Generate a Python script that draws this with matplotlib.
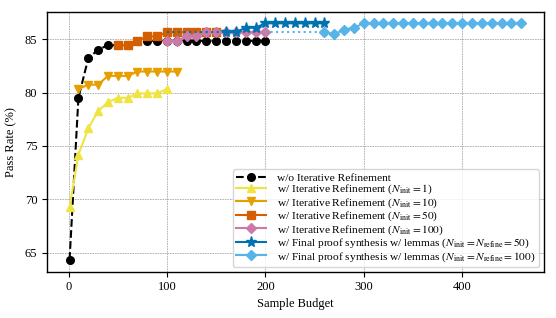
import matplotlib
matplotlib.use("Agg")
import matplotlib.pyplot as plt
import numpy as np

plt.rcParams['font.family'] = ['Liberation Serif', 'DejaVu Serif']
plt.rcParams['mathtext.fontset'] = 'stix'

# ---- data (pass rate %) ----
base_x = [1, 10, 20, 30, 40, 50, 60, 70, 80, 90, 100, 110, 120, 130, 140, 150, 160, 170, 180, 190, 200]
base_y = [64.34, 79.51, 83.20, 84.02, 84.43, 84.43, 84.43, 84.84, 84.84, 84.84, 84.84, 84.84, 84.84,
          84.84, 84.84, 84.84, 84.84, 84.84, 84.84, 84.84, 84.84]

r1_x = [1, 10, 20, 30, 40, 50, 60, 70, 80, 90, 100]
r1_y = [69.26, 74.18, 76.64, 78.28, 79.10, 79.51, 79.51, 79.92, 79.92, 79.92, 80.33]

r10_x = [10, 20, 30, 40, 50, 60, 70, 80, 90, 100, 110]
r10_y = [80.33, 80.74, 80.74, 81.56, 81.56, 81.56, 81.97, 81.97, 81.97, 81.97, 81.97]

r50_x = [50, 60, 70, 80, 90, 100, 110, 120, 130, 140, 150]
r50_y = [84.43, 84.43, 84.84, 85.25, 85.25, 85.66, 85.66, 85.66, 85.66, 85.66, 85.66]

r100_x = [100, 110, 120, 130, 140, 150, 160, 170, 180, 190, 200]
r100_y = [84.84, 84.84, 85.25, 85.25, 85.66, 85.66, 85.66, 85.66, 85.66, 85.66, 85.66]

s50_x = [160, 170, 180, 190, 200, 210, 220, 230, 240, 250, 260]
s50_y = [85.66, 85.66, 86.07, 86.07, 86.48, 86.48, 86.48, 86.48, 86.48, 86.48, 86.48]

s100_x = [260, 270, 280, 290, 300, 310, 320, 330, 340, 350, 360, 370, 380, 390, 400,
          410, 420, 430, 440, 450, 460]
s100_y = [85.66, 85.45, 85.90, 86.07, 86.48, 86.48, 86.48, 86.48, 86.48, 86.48, 86.48,
          86.48, 86.48, 86.48, 86.48, 86.48, 86.48, 86.48, 86.48, 86.48, 86.48]

labels = [
    'w/o Iterative Refinement',
    r'w/ Iterative Refinement ($N_{\mathrm{init}} = 1$)',
    r'w/ Iterative Refinement ($N_{\mathrm{init}} = 10$)',
    r'w/ Iterative Refinement ($N_{\mathrm{init}} = 50$)',
    r'w/ Iterative Refinement ($N_{\mathrm{init}} = 100$)',
    r'w/ Final proof synthesis w/ lemmas ($N_{\mathrm{init}} = N_{\mathrm{refine}} = 50$)',
    r'w/ Final proof synthesis w/ lemmas ($N_{\mathrm{init}} = N_{\mathrm{refine}} = 100$)',
]
colors = ['black', '#F0E442', '#E69F00', '#D55E00', '#CC79A7', '#0072B2', '#56B4E9']

fig = plt.figure(figsize=(5.56, 3.18), dpi=100)
ax = fig.add_axes([0.0845, 0.1456, 0.8935, 0.8182])

ms = 5.5
lw = 1.5
ax.plot(base_x, base_y, '--', color=colors[0], marker='o', ms=ms, lw=lw, label=labels[0])
ax.plot(r1_x, r1_y, '-', color=colors[1], marker='^', ms=ms + 0.5, lw=lw, label=labels[1])
ax.plot(r10_x, r10_y, '-', color=colors[2], marker='v', ms=ms + 0.5, lw=lw, label=labels[2])
ax.plot(r50_x, r50_y, '-', color=colors[3], marker='s', ms=ms, lw=lw, label=labels[3])
ax.plot(r100_x, r100_y, '-', color=colors[4], marker='D', ms=ms - 0.5, lw=lw, label=labels[4])

# dotted bridges from refinement stage to synthesis stage
r50x = np.array(r50_x); r50y = np.array(r50_y)
m = r50x >= 100
ax.plot(list(r50x[m]) + [s50_x[0]], list(r50y[m]) + [s50_y[0]], ':', color=colors[5], lw=lw)
ax.plot([r100_x[-1], s100_x[0]], [r100_y[-1], s100_y[0]], ':', color=colors[6], lw=lw)

ax.plot(s50_x, s50_y, '-', color=colors[5], marker='*', ms=ms + 2.5, lw=lw, label=labels[5])
ax.plot(s100_x, s100_y, '-', color=colors[6], marker='D', ms=ms - 0.5, lw=lw, label=labels[6])

ax.set_yticks([65, 70, 75, 80, 85])
ax.set_xticks([0, 100, 200, 300, 400])
ax.tick_params(labelsize=9, length=3.5, width=0.8)
ax.grid(True, linestyle=(0, (2, 1)), color='#aaaaaa', linewidth=0.6)
ax.set_axisbelow(True)
for s in ax.spines.values():
    s.set_linewidth(1.0)

ax.set_xlabel('Sample Budget', fontsize=9, labelpad=3)
ax.set_ylabel('Pass Rate (%)', fontsize=9, labelpad=5)

ax.legend(loc='lower right', fontsize=8.2, handlelength=2.6, borderpad=0.3,
          labelspacing=0.0, handletextpad=1.0, framealpha=0.8, borderaxespad=0.4)

fig.savefig('out.png', dpi=100)
